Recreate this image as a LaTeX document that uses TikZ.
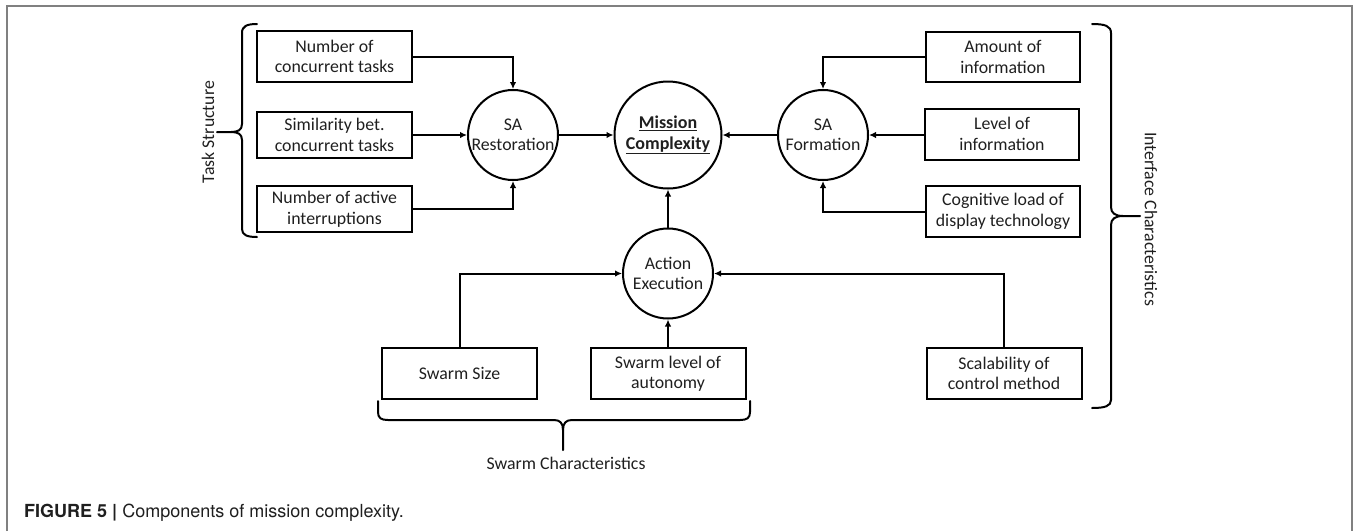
\documentclass[tikz,border=0pt]{standalone}
\usepackage{fontspec}
\setmainfont{Carlito}
\newfontfamily\capfont{TeX Gyre Heros}
\usetikzlibrary{arrows.meta}
\newcommand{\diagfont}{\fontsize{17.8}{20.5}\selectfont}
\begin{document}
\begin{tikzpicture}[x=1pt,y=-1pt,
  box/.style={draw, line width=2pt, minimum width=155pt, minimum height=51pt, inner sep=0pt, align=center, font=\diagfont, text=black!88},
  circ/.style={draw, circle, line width=2pt, minimum size=90pt, inner sep=0pt, align=center, font=\diagfont, text=black!88},
  arr/.style={line width=2pt, -{Latex[length=7pt,width=6.5pt]}},
  bracestyle/.style={line width=2pt, line join=round, line cap=round},
  lbl/.style={font=\diagfont, text=black!88}
]
\useasboundingbox (0,0) rectangle (1354,531);
% frame
\draw[black!50, line width=1.3pt] (7,531) -- (7,6) -- (1352,6) -- (1352,531);

% left boxes
\node[box] (b1) at (334.5,56.5) {Number of\\concurrent tasks};
\node[box, minimum height=46pt] (b2) at (334.5,135) {Similarity bet.\\concurrent tasks};
\node[box, minimum height=46pt] (b3) at (334.5,209) {Number of active\\interruptions};

% circles
\node[circ] (c1) at (513,135) {SA\\Restoration};
\node[circ, minimum size=107pt, font=\fontsize{18}{21}\selectfont\bfseries] (mc) at (668,135) {\underline{Mission}\\\underline{Complexity}};
\node[circ] (c2) at (823,135) {SA\\Formation};
\node[circ] (ae) at (668,273.5) {Action\\Execution};

% right boxes
\node[box, minimum width=154pt, minimum height=50pt] (r1) at (1003,57) {Amount of\\information};
\node[box, minimum width=154pt] (r2) at (1002,134) {Level of\\information};
\node[box, minimum width=154pt] (r3) at (1003,211.5) {Cognitive load of\\display technology};

% bottom boxes
\node[box] (s1) at (459.5,373.5) {Swarm Size};
\node[box] (s2) at (668,373.5) {Swarm level of\\autonomy};
\node[box] (s3) at (1004,373.5) {Scalability of\\control method};

% connectors
\draw[arr] (b1.east) -| (c1.north);
\draw[arr] (b2.east) -- (c1.west);
\draw[arr] (b3.east) -| (c1.south);
\draw[arr] (c1.east) -- (mc.west);
\draw[arr] (c2.west) -- (mc.east);
\draw[arr] (r1.west) -| (c2.north);
\draw[arr] (c2.east -| r2.west) -- (c2.east);
\draw[arr] (r3.west) -| (c2.south);
\draw[arr] (ae.north) -- (mc.south);
\draw[arr] (s1.north) |- (ae.west);
\draw[arr] (s2.north) -- (ae.south);
\draw[arr] (s3.north) |- (ae.east);

% left brace (Task Structure)
\draw[bracestyle] (257,24) .. controls (247,24) and (242,26) .. (242,33) -- (242,124)
  .. controls (242,130) and (238,132) .. (231,132) -- (217,132);
\draw[bracestyle] (231,132) .. controls (238,132) and (242,134) .. (242,140) -- (242,229)
  .. controls (242,235) and (247,237) .. (257,237);
\node[lbl, rotate=90] (ts) at (208,132) {Task Structure};

% right brace (Interface Characteristics)
\draw[bracestyle] (1092,24) .. controls (1105,24) and (1111,26) .. (1111,33) -- (1111,207)
  .. controls (1111,213) and (1115,216) .. (1123,216) -- (1140,216);
\draw[bracestyle] (1123,216) .. controls (1115,216) and (1111,219) .. (1111,225) -- (1111,400)
  .. controls (1111,406) and (1105,408) .. (1092,408);
\node[lbl, rotate=-90] (ic) at (1151,219) {Interface Characteristics};

% bottom brace (Swarm Characteristics)
\draw[bracestyle] (378,401) -- (378,412) .. controls (378,418) and (381,420) .. (388,420) -- (554,420)
  .. controls (560,420) and (563,423) .. (563,430) -- (563,450);
\draw[bracestyle] (563,430) .. controls (563,423) and (566,420) .. (572,420) -- (740,420)
  .. controls (747,420) and (750,418) .. (750,412) -- (750,401);
\node[lbl] (sc) at (566,463) {Swarm Characteristics};

% caption
\node[anchor=west, inner sep=0pt, text=black!88, font=\capfont\fontsize{18}{20}\selectfont] (cap) at (24,513) {\textbf{FIGURE 5 |} Components of mission complexity.};
\end{tikzpicture}
\end{document}
